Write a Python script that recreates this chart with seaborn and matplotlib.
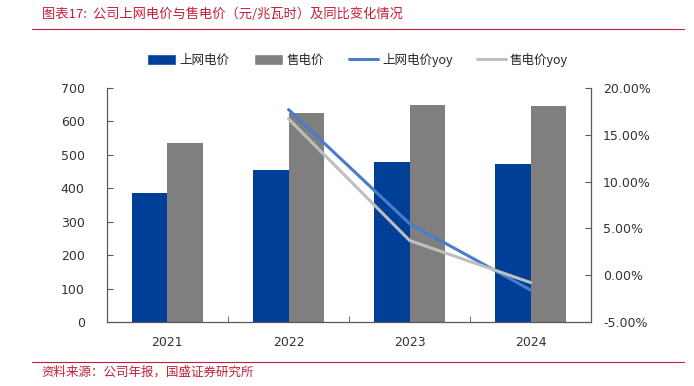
import pandas as pd
import matplotlib.pyplot as plt
import matplotlib.ticker as mticker
import seaborn as sns
from matplotlib.patches import Patch
from matplotlib.lines import Line2D

years = ['2021', '2022', '2023', '2024']
grid_price = [387, 455, 479, 473]      # 上网电价
sale_price = [536, 626, 650, 645]      # 售电价
yoy_years = ['2022', '2023', '2024']
grid_yoy = [0.177, 0.055, -0.016]
sale_yoy = [0.167, 0.037, -0.008]

sns.set_style('white')
plt.rcParams['font.family'] = ['DejaVu Sans', 'Noto Sans CJK SC']
cjk = ['Noto Sans CJK SC', 'DejaVu Sans']

blue = '#003F98'
gray = '#7F7F7F'
line_blue = '#4A7DC9'
line_gray = '#BFBFBF'
red = '#C41E3A'
axis_col = '#595959'

df = pd.DataFrame({
    'year': years * 2,
    'value': grid_price + sale_price,
    'series': ['上网电价'] * 4 + ['售电价'] * 4,
})

fig = plt.figure(figsize=(6.94, 3.86), dpi=100)
ax = fig.add_axes([0.154, 0.166, 0.698, 0.606])

sns.barplot(data=df, x='year', y='value', hue='series', order=years,
            palette=[blue, gray], width=0.59, gap=0, saturation=1,
            edgecolor='none', legend=False, ax=ax)
ax.set_xlim(-0.5, 3.5)
ax.set_ylim(0, 700)
ax.set_yticks(range(0, 701, 100))
ax.set_xlabel('')
ax.set_ylabel('')

ax2 = ax.twinx()
xpos = [years.index(y) for y in yoy_years]
sns.lineplot(x=xpos, y=grid_yoy, color=line_blue, lw=2.2, ax=ax2)
sns.lineplot(x=xpos, y=sale_yoy, color=line_gray, lw=2.2, ax=ax2)
ax2.set_ylim(-0.05, 0.20)
ax2.set_yticks([-0.05, 0, 0.05, 0.10, 0.15, 0.20])
ax2.yaxis.set_major_formatter(mticker.FuncFormatter(lambda v, p: f'{v * 100:.2f}%'))
ax.set_xlim(-0.5, 3.5)

for a in (ax, ax2):
    a.spines['top'].set_visible(False)
    for s in ('left', 'right', 'bottom'):
        a.spines[s].set_color(axis_col)
        a.spines[s].set_linewidth(0.9)
ax.spines['right'].set_visible(False)
ax2.spines['left'].set_visible(False)
ax2.spines['bottom'].set_visible(False)

ax.tick_params(axis='y', direction='in', length=4, color=axis_col,
               labelsize=9, labelcolor='#333333', pad=16, left=True)
ax2.tick_params(axis='y', direction='in', length=4, color=axis_col,
                labelsize=9, labelcolor='#333333', pad=8.5, right=True)
ax.tick_params(axis='x', length=0, labelsize=9, labelcolor='#333333', pad=10)
ax.set_xticks([0.5, 1.5, 2.5], minor=True)
ax.tick_params(axis='x', which='minor', direction='in', length=4, color=axis_col, bottom=True)

handles = [
    Patch(facecolor=blue, label='上网电价'),
    Patch(facecolor=gray, label='售电价'),
    Line2D([], [], color=line_blue, lw=2.2, label='上网电价yoy'),
    Line2D([], [], color=line_gray, lw=2.2, label='售电价yoy'),
]
fig.legend(handles=handles, loc='center', bbox_to_anchor=(0.515, 0.845), ncol=4,
           frameon=False, prop={'family': cjk, 'size': 9}, handlelength=2.3,
           handleheight=0.9, columnspacing=2.0, handletextpad=0.3)

fig.text(0.06, 0.962, '图表17:  公司上网电价与售电价（元/兆瓦时）及同比变化情况',
         color=red, fontsize=9.5, family=cjk, va='center', style='italic')
fig.add_artist(Line2D([0.046, 0.985], [0.925, 0.925], color=red, lw=0.8,
                      transform=fig.transFigure))
fig.add_artist(Line2D([0.046, 0.985], [0.062, 0.062], color=red, lw=0.8,
                      transform=fig.transFigure))
fig.text(0.06, 0.036, '资料来源：公司年报，国盛证券研究所', color=red,
         fontsize=9, family=cjk, va='center', style='italic')

fig.savefig('out.png', dpi=100)
